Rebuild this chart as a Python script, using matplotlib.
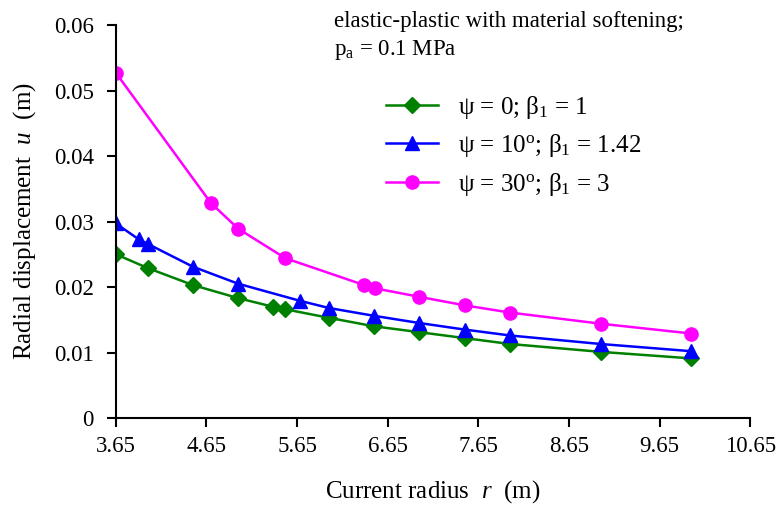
import matplotlib.pyplot as plt

plt.rcParams['font.family'] = 'Liberation Serif'
plt.rcParams['mathtext.fontset'] = 'custom'
plt.rcParams['mathtext.rm'] = 'Liberation Serif'
plt.rcParams['mathtext.it'] = 'Liberation Serif:italic'

# === Data ===
r_psi0 = [3.65, 4.0, 4.5, 5.0, 5.38, 5.52, 6.0, 6.5, 7.0, 7.5, 8.0, 9.0, 10.0]
u_psi0 = [0.0250, 0.0229, 0.0203, 0.0183, 0.0170, 0.0166, 0.0153, 0.0140,
          0.0131, 0.0122, 0.0113, 0.0101, 0.0091]

r_psi10 = [3.65, 3.9, 4.0, 4.5, 5.0, 5.68, 6.0, 6.5, 7.0, 7.5, 8.0, 9.0, 10.0]
u_psi10 = [0.0297, 0.0273, 0.0266, 0.0231, 0.0205, 0.0179, 0.0168, 0.0156,
           0.0145, 0.0135, 0.0126, 0.0113, 0.0102]

r_psi30 = [3.65, 4.7, 5.0, 5.52, 6.39, 6.51, 7.0, 7.5, 8.0, 9.0, 10.0]
u_psi30 = [0.0527, 0.0328, 0.0289, 0.0244, 0.0203, 0.0198, 0.0185, 0.0172,
           0.0161, 0.0144, 0.0129]

x_ticks = [3.65, 4.65, 5.65, 6.65, 7.65, 8.65, 9.65, 10.65]
y_ticks = [0, 0.01, 0.02, 0.03, 0.04, 0.05, 0.06]

fs = 16.5

fig = plt.figure(figsize=(7.83, 5.11), dpi=100)
ax = fig.add_axes([0.148, 0.182, 0.810, 0.769])

ax.plot(r_psi0, u_psi0, color='#008000', marker='D', ms=8.5, lw=1.8,
        label=r'ψ = 0; β$_1$ = 1')
ax.plot(r_psi10, u_psi10, color='#0000ff', marker='^', ms=10.5, lw=1.8,
        label=r'ψ = 10$^{\rm o}$; β$_1$ = 1.42')
ax.plot(r_psi30, u_psi30, color='#ff00ff', marker='o', ms=9.5, lw=1.8,
        label=r'ψ = 30$^{\rm o}$; β$_1$ = 3')

ax.set_xlim(3.65, 10.65)
ax.set_ylim(0, 0.06)
ax.set_xticks(x_ticks)
ax.set_xticklabels([f'{t:.2f}' for t in x_ticks])
ax.set_yticks(y_ticks)
ax.set_yticklabels(['0', '0.01', '0.02', '0.03', '0.04', '0.05', '0.06'])
ax.tick_params(direction='out', length=6.5, width=1.5, labelsize=fs)
ax.tick_params(axis='y', pad=9.5)
ax.tick_params(axis='x', pad=6.5)
for s in ['top', 'right']:
    ax.spines[s].set_visible(False)
for s in ['left', 'bottom']:
    ax.spines[s].set_linewidth(1.5)

ax.set_xlabel(r'Current radius  $\mathit{r}$  (m)', fontsize=18, labelpad=15.5)
ax.set_ylabel(r'Radial displacement  $\mathit{u}$  (m)', fontsize=18, labelpad=11.5)

fig.text(0.426, 0.957, 'elastic-plastic with material softening;',
         fontsize=fs, va='center')
fig.text(0.426, 0.902, r'p$_{\rm a}$ = 0.1 MPa', fontsize=fs, va='center')

ax.legend(loc='upper left', bbox_to_anchor=(0.39, 0.883), frameon=False,
          fontsize=18, handlelength=2.1, labelspacing=0.46, handletextpad=0.8)

fig.savefig('out.png', dpi=100)
